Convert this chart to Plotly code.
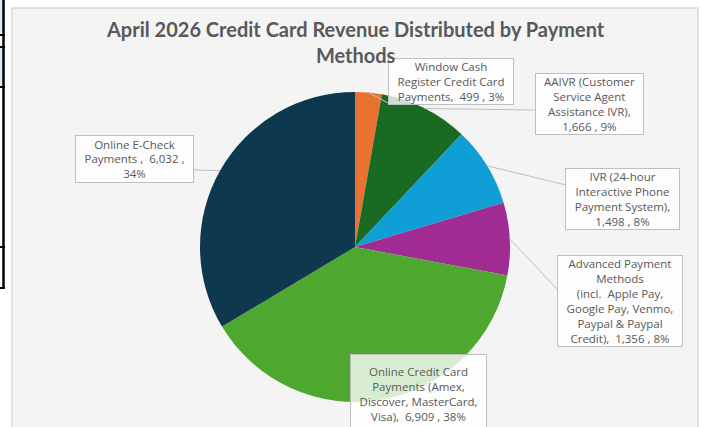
import plotly.graph_objects as go
import math

W, H = 704, 427

# ---- data ----
categories = [
    "Window Cash Register Credit Card Payments",
    "AAIVR (Customer Service Agent Assistance IVR)",
    "IVR (24-hour Interactive Phone Payment System)",
    "Advanced Payment Methods (incl. Apple Pay, Google Pay, Venmo, Paypal & Paypal Credit)",
    "Online Credit Card Payments (Amex, Discover, MasterCard, Visa)",
    "Online E-Check Payments",
]
values = [499, 1666, 1498, 1356, 6909, 6032]
colors = ["#E97132", "#196B24", "#0F9ED5", "#A02B93", "#4EA72E", "#0E384E"]
label_templates = [
    "Window Cash<br>Register Credit Card<br>Payments,  {v} , {p}%",
    "AAIVR (Customer<br>Service Agent<br>Assistance IVR),<br>{v} , {p}%",
    "IVR (24-hour<br>Interactive Phone<br>Payment System),<br>{v} , {p}%",
    "Advanced Payment<br>Methods<br>(incl.  Apple Pay,<br>Google Pay, Venmo,<br>Paypal &amp; Paypal<br>Credit),  {v} , {p}%",
    "Online Credit Card<br>Payments (Amex,<br>Discover, MasterCard,<br>Visa),  {v} , {p}%",
    "Online E-Check<br>Payments ,  {v} ,<br>{p}%",
]
title_text = "<b>April 2026 Credit Card Revenue Distributed by Payment<br>Methods</b>"

# ---- layout geometry (pixels) ----
CX, CY, R = 355, 247, 155
# label boxes: left, top, width, height ; leader anchor on box (px) or None
boxes = [
    (388, 58, 126, 47, (390, 104)),
    (535, 73, 109, 62, (536, 110)),
    (565, 168, 115, 62, (566, 185)),
    (557, 255, 126, 92, (558, 290)),
    (350, 354, 137, 80, None),
    (75, 135, 119, 48, (193, 170)),
]

def px(x):
    return x / W

def py(y):
    return 1 - y / H

total = sum(values)
pcts = [round(v / total * 100) for v in values]

fig = go.Figure()
fig.add_trace(go.Pie(
    labels=categories,
    values=values,
    sort=False,
    direction="clockwise",
    rotation=0,
    marker=dict(colors=colors, line=dict(width=0)),
    textinfo="none",
    showlegend=False,
    domain=dict(x=[px(CX - R), px(CX + R)], y=[py(CY + R), py(CY - R)]),
    hovertemplate="%{label}<br>%{value:,} (%{percent})<extra></extra>",
))

shapes = []
# spreadsheet artifacts at left edge
shapes.append(dict(type="rect", xref="paper", yref="paper", x0=0, x1=px(4), y0=py(35), y1=py(0),
                   fillcolor="#DDEBF7", line=dict(width=0), layer="below"))
shapes.append(dict(type="rect", xref="paper", yref="paper", x0=0, x1=px(4), y0=py(86), y1=py(47),
                   fillcolor="#DDEBF7", line=dict(width=0), layer="below"))
shapes.append(dict(type="line", xref="paper", yref="paper", x0=px(3.5), x1=px(3.5), y0=py(0), y1=py(288),
                   line=dict(color="black", width=2.5), layer="below"))
for yy in [35, 47, 87, 247, 288]:
    shapes.append(dict(type="line", xref="paper", yref="paper", x0=0, x1=px(5), y0=py(yy), y1=py(yy),
                       line=dict(color="black", width=2), layer="below"))
# chart area
shapes.append(dict(type="rect", xref="paper", yref="paper", x0=px(12), x1=px(698), y0=py(432), y1=py(8),
                   fillcolor="#F4F4F4", line=dict(color="#D9D9D9", width=1.5), layer="below"))

# leader lines from boxes to slice mid-angle edge
start = 0.0
mids = []
for v in values:
    mids.append(start + v / total * 360 / 2)
    start += v / total * 360
for i, (bx, by, bw, bh, anchor) in enumerate(boxes):
    if anchor is None:
        continue
    a = math.radians(mids[i])
    tx = CX + R * math.sin(a)
    ty = CY - R * math.cos(a)
    shapes.append(dict(type="line", xref="paper", yref="paper",
                       x0=px(anchor[0]), y0=py(anchor[1]), x1=px(tx), y1=py(ty),
                       line=dict(color="#BFBFBF", width=1)))

annotations = []
for i, (bx, by, bw, bh, anchor) in enumerate(boxes):
    txt = label_templates[i].format(v=f"{values[i]:,}", p=pcts[i])
    annotations.append(dict(
        xref="paper", yref="paper", x=px(bx), y=py(by), xanchor="left", yanchor="top",
        text=txt, showarrow=False, align="center", valign="middle",
        width=bw - 2, height=bh - 2, borderpad=0,
        bgcolor="rgba(255,255,255,0.78)", bordercolor="#BFBFBF", borderwidth=1,
        font=dict(family="Open Sans", size=11.5, color="#595959"),
    ))

# title
annotations.append(dict(
    xref="paper", yref="paper", x=px(355), y=py(15), xanchor="center", yanchor="top",
    text=title_text, showarrow=False, align="center",
    font=dict(family="Lato", size=20, color="#595959"),
))

fig.update_layout(
    width=W, height=H,
    margin=dict(l=0, r=0, t=0, b=0),
    paper_bgcolor="white",
    plot_bgcolor="white",
    shapes=shapes,
    annotations=annotations,
)

fig.write_html("out.html", config={"displayModeBar": False},
               post_script="document.body.style.margin='0';document.body.style.overflow='hidden';")
